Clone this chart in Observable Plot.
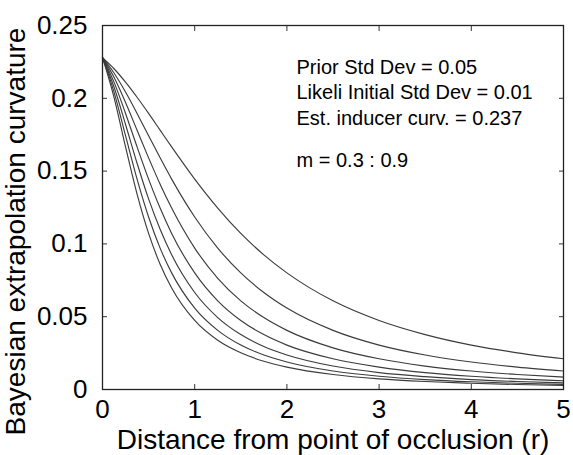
<!DOCTYPE html>
<html>
<head>
<meta charset="utf-8">
<script src="https://cdn.jsdelivr.net/npm/d3@7"></script>
<script src="https://cdn.jsdelivr.net/npm/@observablehq/plot@0.6"></script>
<style>
  html, body { margin: 0; padding: 0; background: #ffffff; }
</style>
</head>
<body>
<div id="chart"></div>
<script>
// Distance from point of occlusion (r)
const rValues = [0, 0.125, 0.25, 0.375, 0.5, 0.625, 0.75, 1, 1.25, 1.5, 1.75, 2, 2.5, 3, 3.5, 4, 4.5, 5];
// m parameter of each curve
const mValues = [0.3, 0.4, 0.5, 0.6, 0.7, 0.8, 0.9];
// Bayesian extrapolation curvature, one array per m
const curveM03 = [0.2279, 0.2203, 0.2111, 0.2007, 0.1896, 0.1781, 0.1666, 0.1445, 0.1246, 0.1072, 0.0925, 0.0801, 0.0609, 0.0474, 0.0377, 0.0305, 0.0252, 0.0211];
const curveM04 = [0.2279, 0.2174, 0.2043, 0.1896, 0.1743, 0.1591, 0.1445, 0.1185, 0.0971, 0.0801, 0.0666, 0.0559, 0.0406, 0.0305, 0.0237, 0.0189, 0.0154, 0.0127];
const curveM05 = [0.2279, 0.2144, 0.1971, 0.1781, 0.1591, 0.1410, 0.1246, 0.0971, 0.0764, 0.0609, 0.0494, 0.0406, 0.0286, 0.0211, 0.0161, 0.0127, 0.0103, 0.0085];
const curveM06 = [0.2279, 0.2111, 0.1896, 0.1666, 0.1445, 0.1246, 0.1072, 0.0801, 0.0609, 0.0474, 0.0377, 0.0305, 0.0211, 0.0154, 0.0116, 0.0091, 0.0073, 0.0060];
const curveM07 = [0.2279, 0.2078, 0.1820, 0.1554, 0.1309, 0.1100, 0.0925, 0.0666, 0.0494, 0.0377, 0.0295, 0.0237, 0.0161, 0.0116, 0.0088, 0.0068, 0.0055, 0.0045];
const curveM08 = [0.2279, 0.2043, 0.1743, 0.1445, 0.1185, 0.0971, 0.0801, 0.0559, 0.0406, 0.0305, 0.0237, 0.0189, 0.0127, 0.0091, 0.0068, 0.0053, 0.0043, 0.0035];
const curveM09 = [0.2279, 0.2007, 0.1666, 0.1342, 0.1072, 0.0860, 0.0697, 0.0474, 0.0338, 0.0252, 0.0194, 0.0154, 0.0103, 0.0073, 0.0055, 0.0043, 0.0034, 0.0028];

const xTicks = [0, 1, 2, 3, 4, 5];
const xTickLabels = ["0", "1", "2", "3", "4", "5"];
const yTicks = [0, 0.05, 0.1, 0.15, 0.2, 0.25];
const yTickLabels = ["0", "0.05", "0.1", "0.15", "0.2", "0.25"];

const xTitle = "Distance from point of occlusion (r)";
const yTitle = "Bayesian extrapolation curvature";
const noteLines = ["Prior Std Dev = 0.05", "Likeli Initial Std Dev = 0.01", "Est. inducer curv. = 0.237"];
const noteRange = "m = 0.3 : 0.9";

const seriesList = [curveM03, curveM04, curveM05, curveM06, curveM07, curveM08, curveM09];
const rows = [];
seriesList.forEach((vals, i) => {
  vals.forEach((v, j) => rows.push({m: mValues[i], r: rValues[j], c: v}));
});

const font = "'Liberation Sans', Arial, Helvetica, sans-serif";

const chart = Plot.plot({
  width: 573,
  height: 455,
  marginLeft: 102,
  marginRight: 10,
  marginTop: 25,
  marginBottom: 66,
  style: {fontFamily: font, background: "#ffffff", color: "#000000"},
  x: {domain: [0, 5]},
  y: {domain: [0, 0.25]},
  marks: [
    Plot.line(rows, {x: "r", y: "c", z: "m", curve: "monotone-x", stroke: "#3c3c3c", strokeWidth: 1.15}),
    // inward tick marks on all four sides
    Plot.axisX(xTicks, {anchor: "bottom", tickSize: -5, tickFormat: () => "", label: null, stroke: "#333"}),
    Plot.axisX(xTicks, {anchor: "top", tickSize: -5, tickFormat: () => "", label: null, stroke: "#333"}),
    Plot.axisY(yTicks, {anchor: "left", tickSize: -5, tickFormat: () => "", label: null, stroke: "#333"}),
    Plot.axisY(yTicks, {anchor: "right", tickSize: -5, tickFormat: () => "", label: null, stroke: "#333"}),
    // tick labels
    Plot.axisX(xTicks, {anchor: "bottom", tickSize: 0, tickPadding: 10, fontSize: 26, label: null,
      tickFormat: (d) => xTickLabels[xTicks.indexOf(d)]}),
    Plot.axisY(yTicks, {anchor: "left", tickSize: 0, tickPadding: 15, fontSize: 26, label: null,
      tickFormat: (d) => yTickLabels[yTicks.indexOf(d)]}),
    Plot.frame({stroke: "#222", strokeWidth: 1.3}),
    // axis titles
    Plot.text([xTitle], {frameAnchor: "bottom", dy: 51, fontSize: 28, textAnchor: "middle", lineAnchor: "middle", fill: "#000"}),
    Plot.text([yTitle], {frameAnchor: "left", dx: -86, dy: 24, rotate: -90, fontSize: 28, textAnchor: "middle", lineAnchor: "middle", fill: "#000"}),
    // annotations
    Plot.text([noteLines.join("\n")], {frameAnchor: "top-left", dx: 194, dy: 30.5, fontSize: 20, lineHeight: 1.27, textAnchor: "start", lineAnchor: "top", fill: "#000"}),
    Plot.text([noteRange], {frameAnchor: "top-left", dx: 194, dy: 127, fontSize: 20, textAnchor: "start", lineAnchor: "top", fill: "#000"})
  ]
});
document.getElementById("chart").appendChild(chart);
</script>
</body>
</html>
